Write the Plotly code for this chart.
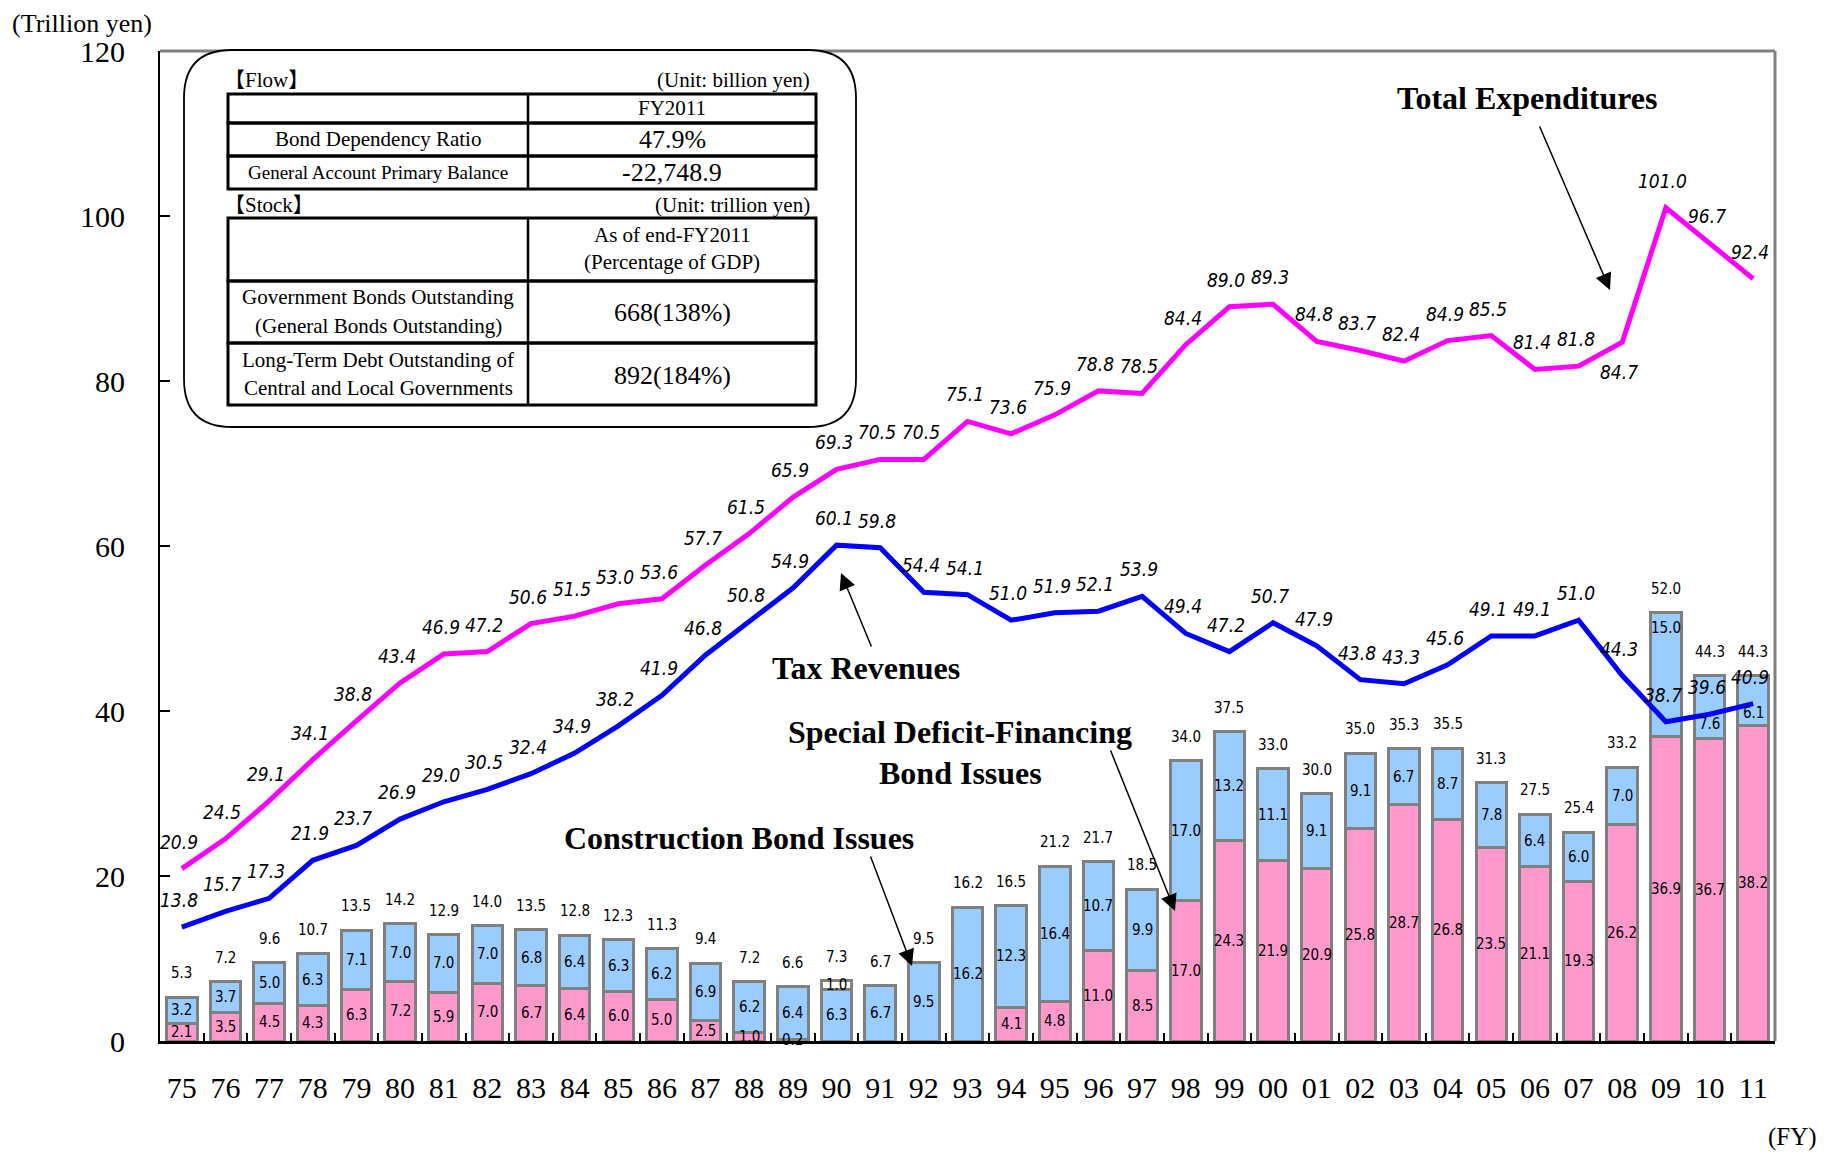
import plotly.graph_objects as go

# ---------------- data ----------------
years = ["75", "76", "77", "78", "79", "80", "81", "82", "83", "84", "85", "86", "87",
         "88", "89", "90", "91", "92", "93", "94", "95", "96", "97", "98", "99", "00",
         "01", "02", "03", "04", "05", "06", "07", "08", "09", "10", "11"]

total_expenditures = [20.9, 24.5, 29.1, 34.1, 38.8, 43.4, 46.9, 47.2, 50.6, 51.5, 53.0, 53.6,
                      57.7, 61.5, 65.9, 69.3, 70.5, 70.5, 75.1, 73.6, 75.9, 78.8, 78.5, 84.4,
                      89.0, 89.3, 84.8, 83.7, 82.4, 84.9, 85.5, 81.4, 81.8, 84.7, 101.0, 96.7, 92.4]

tax_revenues = [13.8, 15.7, 17.3, 21.9, 23.7, 26.9, 29.0, 30.5, 32.4, 34.9, 38.2, 41.9,
                46.8, 50.8, 54.9, 60.1, 59.8, 54.4, 54.1, 51.0, 51.9, 52.1, 53.9, 49.4,
                47.2, 50.7, 47.9, 43.8, 43.3, 45.6, 49.1, 49.1, 51.0, 44.3, 38.7, 39.6, 40.9]

deficit_bonds = [2.1, 3.5, 4.5, 4.3, 6.3, 7.2, 5.9, 7.0, 6.7, 6.4, 6.0, 5.0, 2.5,
                 1.0, 0.2, 0.0, 0.0, 0.0, 0.0, 4.1, 4.8, 11.0, 8.5, 17.0, 24.3, 21.9,
                 20.9, 25.8, 28.7, 26.8, 23.5, 21.1, 19.3, 26.2, 36.9, 36.7, 38.2]

construction_bonds = [3.2, 3.7, 5.0, 6.3, 7.1, 7.0, 7.0, 7.0, 6.8, 6.4, 6.3, 6.2, 6.9,
                      6.2, 6.4, 6.3, 6.7, 9.5, 16.2, 12.3, 16.4, 10.7, 9.9, 17.0, 13.2, 11.1,
                      9.1, 9.1, 6.7, 8.7, 7.8, 6.4, 6.0, 7.0, 15.0, 7.6, 6.1]

temporary_bonds = [0.0] * 15 + [1.0] + [0.0] * 21

bond_totals = [5.3, 7.2, 9.6, 10.7, 13.5, 14.2, 12.9, 14.0, 13.5, 12.8, 12.3, 11.3, 9.4,
               7.2, 6.6, 7.3, 6.7, 9.5, 16.2, 16.5, 21.2, 21.7, 18.5, 34.0, 37.5, 33.0,
               30.0, 35.0, 35.3, 35.5, 31.3, 27.5, 25.4, 33.2, 52.0, 44.3, 44.3]

y_ticks = [0, 20, 40, 60, 80, 100, 120]

# ---------------- styling ----------------
OFF = 8                      # page body margin of the html page
W, H = 1836 - 2 * OFF, 1159 - 2 * OFF
PL, PR, PT, PB = 160, 1775, 51, 1041   # plot area in page pixels
L, R, T, B = PL - OFF, PR - OFF, PT - OFF, PB - OFF
PINK = "#FF99CC"
LBLUE = "#99CCFF"
GRAY = "#808080"
SERIF = "Liberation Serif, Times New Roman, serif"
NARROW = "Liberation Sans Narrow, Arial Narrow, DejaVu Sans Condensed, sans-serif"
CJK_SERIF = "Liberation Serif, Noto Sans CJK JP, serif"


def X(px):
    return (px - PL) / (PR - PL)


def Y(py):
    return (PB - py) / (PB - PT)


fig = go.Figure()

fig.add_trace(go.Bar(x=years, y=deficit_bonds, name="Special Deficit-Financing Bond Issues",
                     marker=dict(color=PINK, line=dict(color=GRAY, width=3))))
fig.add_trace(go.Bar(x=years, y=construction_bonds, name="Construction Bond Issues",
                     marker=dict(color=LBLUE, line=dict(color=GRAY, width=3))))
fig.add_trace(go.Bar(x=years, y=temporary_bonds, name="Temporary Special Bonds",
                     marker=dict(color="#FFFFFF", line=dict(color=GRAY, width=3))))
fig.add_trace(go.Scatter(x=years, y=total_expenditures, mode="lines", name="Total Expenditures",
                         line=dict(color="#FF00FF", width=5)))
fig.add_trace(go.Scatter(x=years, y=tax_revenues, mode="lines", name="Tax Revenues",
                         line=dict(color="#0000FF", width=5)))

ann = []
lab_font = dict(family=NARROW, size=15, color="black")
line_font = dict(family=NARROW, size=19, color="black")

blue_label_shift = {34: 47, 35: -17, 36: -12}
total_label_shift = {33: -30}

for i, yr in enumerate(years):
    d = deficit_bonds[i]
    c = construction_bonds[i]
    t = temporary_bonds[i]
    if d > 0:
        ann.append(dict(x=i, y=d / 2, xref="x", yref="y", text=f"{d:.1f}", showarrow=False,
                        font=lab_font, xanchor="center", yanchor="middle"))
    if c > 0:
        ann.append(dict(x=i, y=d + c / 2, xref="x", yref="y", text=f"{c:.1f}", showarrow=False,
                        font=lab_font, xanchor="center", yanchor="middle",
                        yshift=blue_label_shift.get(i, 0)))
    if t > 0:
        ann.append(dict(x=i, y=d + c + t / 2, xref="x", yref="y", text=f"{t:.1f}", showarrow=False,
                        font=lab_font, xanchor="center", yanchor="middle"))
    ann.append(dict(x=i, y=d + c + t, xref="x", yref="y", text=f"{bond_totals[i]:.1f}",
                    showarrow=False, font=lab_font, xanchor="center", yanchor="middle", yshift=24))
    ann.append(dict(x=i, y=total_expenditures[i], xref="x", yref="y",
                    text=f"<i>{total_expenditures[i]:.1f}</i>", showarrow=False, font=line_font,
                    xanchor="center", yanchor="middle", xshift=-3,
                    yshift=total_label_shift.get(i, 27)))
    ann.append(dict(x=i, y=tax_revenues[i], xref="x", yref="y",
                    text=f"<i>{tax_revenues[i]:.1f}</i>", showarrow=False, font=line_font,
                    xanchor="center", yanchor="middle", xshift=-3, yshift=27))

# series captions
cap_font = dict(family=SERIF, size=32, color="black")
for txt_, px, py in [("<b>Total Expenditures</b>", 1527, 98),
                     ("<b>Tax Revenues</b>", 866, 668),
                     ("<b>Special Deficit-Financing</b>", 960, 732),
                     ("<b>Bond Issues</b>", 960, 773),
                     ("<b>Construction Bond Issues</b>", 739, 838)]:
    ann.append(dict(x=X(px), y=Y(py), xref="paper", yref="paper", text=txt_, showarrow=False,
                    font=cap_font, xanchor="center", yanchor="middle"))

# arrows (tail -> head, page pixels)
for (tx, ty), (hx, hy) in [((1539, 125), (1610, 290)),
                           ((872, 648), (841, 573)),
                           ((1110, 749), (1175, 911)),
                           ((870, 855), (912, 966))]:
    ann.append(dict(x=X(hx), y=Y(hy), ax=X(tx), ay=Y(ty), xref="x domain", yref="y domain",
                    axref="x domain", ayref="y domain", text="", showarrow=True,
                    arrowhead=2, arrowsize=2.2, arrowwidth=1.5, arrowcolor="black", standoff=0))

# axis unit labels
ann.append(dict(x=X(10), y=Y(23), xref="paper", yref="paper", text="(Trillion yen)", showarrow=False,
                font=dict(family=SERIF, size=26, color="black"), xanchor="left", yanchor="middle"))
ann.append(dict(x=X(1792), y=Y(1137), xref="paper", yref="paper", text="(FY)", showarrow=False,
                font=dict(family=SERIF, size=25, color="black"), xanchor="center", yanchor="middle"))

# ---------------- info box (table) ----------------
shapes = []
shapes.append(dict(type="line", xref="paper", yref="paper", x0=0, x1=1, y0=1, y1=1,
                   line=dict(color=GRAY, width=3)))
shapes.append(dict(type="line", xref="paper", yref="paper", x0=1, x1=1, y0=0, y1=1,
                   line=dict(color=GRAY, width=3)))

x0, x1, y0, y1, r = 184, 856, 50, 427, 48
path = (f"M {X(x0 + r)},{Y(y0)} L {X(x1 - r)},{Y(y0)} Q {X(x1)},{Y(y0)} {X(x1)},{Y(y0 + r)} "
        f"L {X(x1)},{Y(y1 - r)} Q {X(x1)},{Y(y1)} {X(x1 - r)},{Y(y1)} "
        f"L {X(x0 + r)},{Y(y1)} Q {X(x0)},{Y(y1)} {X(x0)},{Y(y1 - r)} "
        f"L {X(x0)},{Y(y0 + r)} Q {X(x0)},{Y(y0)} {X(x0 + r)},{Y(y0)} Z")
shapes.append(dict(type="path", xref="paper", yref="paper", path=path, fillcolor="white",
                   line=dict(color="black", width=1.8), layer="above"))

tl, tm, tr = 228, 528, 816
for rows in ([94, 123, 156, 189], [218, 281, 343, 405]):
    for a, b in zip(rows[:-1], rows[1:]):
        shapes.append(dict(type="rect", xref="paper", yref="paper", x0=X(tl), x1=X(tr),
                           y0=Y(b), y1=Y(a), line=dict(color="black", width=3),
                           fillcolor="rgba(0,0,0,0)", layer="above"))
    shapes.append(dict(type="line", xref="paper", yref="paper", x0=X(tm), x1=X(tm),
                       y0=Y(rows[-1]), y1=Y(rows[0]), line=dict(color="black", width=2.5),
                       layer="above"))


def txt(s, px, py, size, anchor="center"):
    ann.append(dict(x=X(px), y=Y(py), xref="paper", yref="paper", text=s, showarrow=False,
                    font=dict(family=CJK_SERIF, size=size, color="black"), xanchor=anchor,
                    yanchor="middle"))


txt("【Flow】", 222, 80, 21, "left")
txt("(Unit: billion yen)", 812, 80, 21, "right")
txt("FY2011", 672, 108, 21)
txt("Bond Dependency Ratio", 378, 139, 21)
txt("47.9%", 672, 139, 26)
txt("General Account Primary Balance", 378, 172, 19)
txt("-22,748.9", 672, 172, 26)
txt("【Stock】", 222, 205, 21, "left")
txt("(Unit: trillion yen)", 812, 205, 21, "right")
txt("As of end-FY2011", 672, 235, 21)
txt("(Percentage of GDP)", 672, 262, 21)
txt("Government Bonds Outstanding", 378, 297, 21)
txt("(General Bonds Outstanding)", 378, 326, 21)
txt("668(138%)", 672, 312, 26)
txt("Long-Term Debt Outstanding of", 378, 360, 21)
txt("Central and Local Governments", 378, 388, 21)
txt("892(184%)", 672, 375, 26)

fig.update_layout(
    width=W, height=H, autosize=False,
    margin=dict(l=L, r=W - R, t=T, b=H - B, pad=0),
    plot_bgcolor="white", paper_bgcolor="white",
    barmode="stack", bargap=0.3,
    showlegend=False,
    annotations=ann, shapes=shapes,
    font=dict(family=SERIF, color="black"),
)
fig.update_xaxes(type="category", range=[-0.5, 36.5], tickson="boundaries", ticks="inside",
                 ticklen=8, tickwidth=1.5, tickcolor="black", showline=True, linecolor="black",
                 linewidth=2.5, showgrid=False, zeroline=False,
                 tickfont=dict(family=SERIF, size=30, color="black"), ticklabelstandoff=18)
fig.update_yaxes(range=[0, 120], tickvals=y_ticks, ticks="inside", ticklen=10, tickwidth=1.5,
                 tickcolor="black", showline=True, linecolor="black", linewidth=2, showgrid=False,
                 zeroline=False, tickfont=dict(family=SERIF, size=30, color="black"),
                 ticklabelstandoff=27)

fig.write_html("out.html")
